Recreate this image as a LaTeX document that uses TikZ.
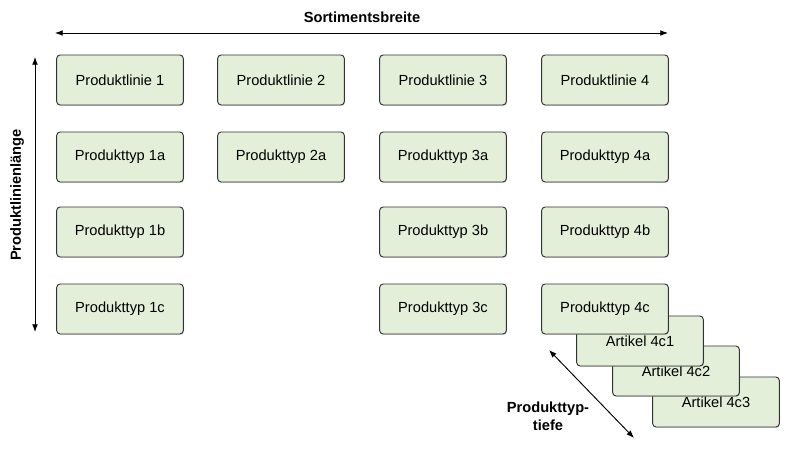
\documentclass[tikz,border=0pt]{standalone}
\usepackage{fontspec}
\setmainfont{Liberation Sans}
\usepackage{tikz}
\usetikzlibrary{arrows.meta, positioning, shadows}
\definecolor{boxfill}{HTML}{E4EFDA}
\tikzset{
  item/.style={draw=black!80, thick, fill=boxfill, rounded corners=3pt,
    minimum width=3.8cm, minimum height=1.5cm, font=\fontsize{12.5}{15}\selectfont,
    drop shadow={shadow xshift=0.6pt, shadow yshift=-0.8pt, opacity=0.35}},
  dim/.style={Latex-Latex, thick},
  lab/.style={font=\bfseries\fontsize{12.5}{15}\selectfont}
}
\begin{document}
\begin{tikzpicture}[x=0.03cm, y=-0.03cm]
\useasboundingbox (0,0) rectangle (800,452);
% Artikel (back to front)
\node[item] (a3) at (716,402) {Artikel 4c3};
\node[item] (a2) at (676,371) {Artikel 4c2};
\node[item] (a1) at (640,341) {Artikel 4c1};
% Produktlinien and Produkttypen
\node[item] (l1) at (120,80) {Produktlinie 1};
\node[item] (l2) at (281,80) {Produktlinie 2};
\node[item] (l3) at (443,80) {Produktlinie 3};
\node[item] (l4) at (605,80) {Produktlinie 4};
\node[item] (t1a) at (120,157) {Produkttyp 1a};
\node[item] (t2a) at (281,157) {Produkttyp 2a};
\node[item] (t3a) at (443,157) {Produkttyp 3a};
\node[item] (t4a) at (605,157) {Produkttyp 4a};
\node[item] (t1b) at (120,232) {Produkttyp 1b};
\node[item] (t3b) at (443,232) {Produkttyp 3b};
\node[item] (t4b) at (605,232) {Produkttyp 4b};
\node[item] (t1c) at (120,309) {Produkttyp 1c};
\node[item] (t3c) at (443,309) {Produkttyp 3c};
\node[item] (t4c) at (605,309) {Produkttyp 4c};
% Dimensionen
\coordinate (bl) at (55,33);
\coordinate (br) at (668,33);
\draw[dim] (bl) -- (br);
\node[lab] (breite) at (362,17) {Sortimentsbreite};
\coordinate (lt) at (35,57);
\coordinate (lb) at (35,332);
\draw[dim] (lt) -- (lb);
\node[lab, rotate=90] (laenge) at (17,195) {Produktlinienlänge};
\coordinate (tt) at (549,350);
\coordinate (tb) at (634,438);
\draw[dim] (tt) -- (tb);
\node[lab, align=center] (tiefe) at (548,416) {Produkttyp-\\tiefe};
\end{tikzpicture}
\end{document}
